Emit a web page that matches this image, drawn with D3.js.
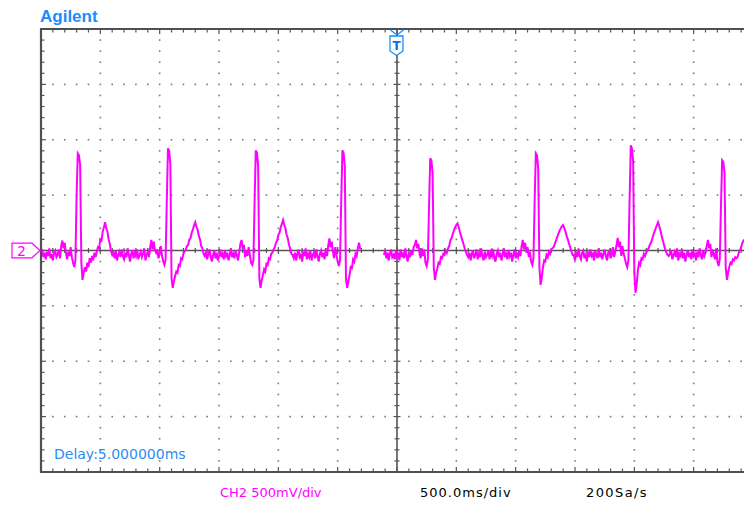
<!DOCTYPE html>
<html>
<head>
<meta charset="utf-8">
<script src="https://cdn.jsdelivr.net/npm/d3@7"></script>
<style>
body { margin:0; background:#fff; }
svg { display:block; }
</style>
</head>
<body>
<svg id="scope" width="744" height="505"></svg>
<script>
/*	Screen settings -------------------------------------------------------------*/
var timeDomain = [-3, 3];        // s   (12 div x 500 ms)
var voltDomain = [-2000, 2000];  // mV  (8 div x 500 mV)
var timeMajor = 0.5, timeMinor = 0.1;
var voltMajor = 500, voltMinor = 100;
var sampleStep = 0.01;           // s between plotted samples
var leftStart = -3.00;           // first record start (s)
var rightStart = -0.11;          // second record start (s)

/*	CH2 samples in mV ------------------------------------------------------------*/
var leftTrace = [
	-30, 10, -60, -20, -80, -10, -50, 20, -70, -30, -90, -20, 0, -60, -40, 10, -70,
	40, 90, 20, 70,
	-20, -80, -10, -50, 30, -60,
	-110, -150, -90,
	500, 877, 860, 770, -110, -265, -200,
	-150, -190, -110, -150, -70, -110, -50, -90, -20, -60,
	-10, 30, 20, 100, 90, 170, 210, 256, 200, 170, 100, 60, -10, -40,
	-20, -70, 0, -90, -40, -10, -60, 10, -50, -80, -20, -60, 20, -40, -100, -30, 0, -70, -20, -50, 10, -80, -40, -10, -60, -30, 20, -90, -40, -10, -60,
	30, 95, 10, 80, 0,
	-20, 10, -70, -30, 40, -50,
	-100, -130, -80,
	450, 922, 900, 780, -250, -337, -280,
	-230, -190, -200, -130, -140, -70, -80,
	-30, -10, 10, 40, 50, 100, 110, 160, 190, 230, 256, 210, 190, 130, 100, 40, 20, -30, -50,
	-20, -80, -30, 10, -60, -100, -40, 0, -70, -20, -90, -50, 10, -60, -30, -80, 0, -50, -20, -90, -40, 20, -60, -30, -70, 0, -40, -90, -20,
	60, 95, 20, 50,
	-60, 0, -50, 30, -40,
	-110, -130, -90,
	450, 904, 880, 760, -250, -337, -270,
	-220, -170, -190, -120, -130, -70, -80, -30,
	-20, 10, 30, 70, 90, 140, 160, 210, 240, 275, 230, 200, 140, 110, 50, 20, -30, -40,
	-70, -20, -90, -30, 10, -60, -40, -100, -10, -50, 20, -80, -30, -60, 0, -90, -40, -20, -70, 10, -50, -100, -30, 0, -60, -20, -80, 20, -50,
	40, 110, 30, 80,
	-10, -70, 30, -40,
	-100, -140, -90,
	450, 904, 880, 760, -250, -337, -280,
	-220, -150, -160, -80, -100, -30, -50, 20, 70, 10
];
var rightTrace = [
	-40, 0, -70, -20, -90, -30, 10, -60, -40, -80, 0, -50, -20, -90, 10, -60, -30, -70, 20, -50, -100, -20, -60, 0, -40, 30,
	50, 95, 20, 60,
	-30, -70, 20, -50, 10,
	-110, -140, -80,
	400, 833, 810, 700, -150, -265, -200,
	-160, -110, -120, -60, -70, -30, -40, 0,
	-20, 20, 40, 95, 110, 150, 180, 210, 230, 245, 210, 170, 130, 95, 60, 20, -10, -40,
	-60, -20, -90, -30, 0, -70, -40, 10, -80, -30, -60, 20, -50, -90, -10, -60, -40, 0, -80, -20, -50, 10, -70, -100, -30, 0, -60, -20, -90, -40, 20, -60, -30, -80, 0, -50, -20, -100, -40, 10, -70, -30, -60, 0, -50,
	40, 95, 10, 70,
	-20, 30, -60, -10,
	-100, -130, -70,
	450, 877, 860, 740, -150, -310, -250,
	-150, -90, -100, -40, -60, -10, -30, 10,
	20, 30, 60, 90, 120, 150, 180, 200, 220, 230, 200, 170, 130, 100, 60, 30, -10, -40,
	-40, -90, -10, -60, 20, -50, -80, -20, 0, -70, -40, -100, -10, -60, 10, -50, -30, -90, 0, -40, -70, 20, -60, -20, -80, -30, 10, -50, -90, -20, 0, -70, -40, 30, -60, -10,
	50, 113, 30, 80,
	-50, 40, -30, -70,
	-120, -150, -90,
	450, 950, 920, 800, -200, -382, -300,
	-180, -110, -130, -70, -80, -30, -50,
	-20, 0, 20, 50, 70, 100, 140, 170, 200, 230, 256, 220, 180, 130, 90, 50, 10, -20, -40, -50,
	-30, 0, -80, -40, -10, -60, 20, -90, -30, -50, 10, -70, -20, -100, -40, 0, -60, -20, -80, 10, -50, -30, -90, -10, -60, 20, -40, -80, 0, -50, -20,
	40, 95, 20, 60,
	-60, 10, -40, -80, 20,
	-100, -140, -80,
	400, 815, 800, 700, -150, -265, -200,
	-150, -110, -120, -80, -90, -60, -70, -58, -20, 0, 30, 67, 90, 100
];

/*	Screen texts ----------------------------------------------------------------*/
var brandText = "Agilent";
var delayText = "Delay:5.000000ms";
var channelText = "CH2 500mV/div";
var timebaseText = "500.0ms/div";
var rateText = "200Sa/s";
var channelNo = "2";

var svg = d3.select("#scope");
var W = 744;

var x = d3.scaleLinear().domain(timeDomain).range([41, 753]);
var y = d3.scaleLinear().domain(voltDomain).range([472, 29]);

var gridColor = "#555555";
var dotColor = "#7a7a7a";
var magenta = "#ff00ff";
var blue = "#1a8cff";

/*	Tick positions --------------------------------------------------------------*/
var tMinor = d3.range(-30, 31).map(function(i){ return i * timeMinor; });
var vMinor = d3.range(-20, 21).map(function(i){ return i * voltMinor; });
var isMajorT = function(t){ return Math.abs(t / timeMajor - Math.round(t / timeMajor)) < 1e-6; };
var isMajorV = function(v){ return v % voltMajor === 0; };

svg.append("clipPath").attr("id","plotClip")
	.append("rect").attr("x", 41).attr("y", 29).attr("width", W - 41).attr("height", 443);

var plot = svg.append("g").attr("clip-path","url(#plotClip)");

/*	Dotted grid -----------------------------------------------------------------*/
var dots = [];
tMinor.filter(isMajorT).forEach(function(t){
	if (Math.abs(t) < 1e-6 || t <= timeDomain[0] || t >= timeDomain[1]) return;
	vMinor.forEach(function(v){
		if (v <= voltDomain[0] || v >= voltDomain[1]) return;
		dots.push([t, v]);
	});
});
vMinor.filter(isMajorV).forEach(function(v){
	if (v === 0 || v <= voltDomain[0] || v >= voltDomain[1]) return;
	tMinor.forEach(function(t){
		if (t <= timeDomain[0] || t >= timeDomain[1] || isMajorT(t)) return;
		dots.push([t, v]);
	});
});
plot.selectAll(".dot").data(dots).enter()
	.append("rect")
	.attr("class","dot")
	.attr("x", function(d){ return x(d[0]) - 0.8; })
	.attr("y", function(d){ return y(d[1]) - 0.8; })
	.attr("width", 1.6)
	.attr("height", 1.6)
	.style("fill", dotColor);

/*	Centre axes with ticks ------------------------------------------------------*/
plot.append("line")
	.attr("x1", x(timeDomain[0])).attr("x2", x(timeDomain[1]))
	.attr("y1", y(0)).attr("y2", y(0))
	.style("stroke", gridColor).style("stroke-width", 1.6);
plot.append("line")
	.attr("x1", x(0)).attr("x2", x(0))
	.attr("y1", y(voltDomain[1])).attr("y2", y(voltDomain[0]))
	.style("stroke", gridColor).style("stroke-width", 1.6);

plot.selectAll(".hTick").data(tMinor).enter()
	.append("line")
	.attr("class","hTick")
	.attr("x1", function(d){ return x(d); })
	.attr("x2", function(d){ return x(d); })
	.attr("y1", function(d){ return y(0) - (isMajorT(d) ? 3.5 : 2.5); })
	.attr("y2", function(d){ return y(0) + (isMajorT(d) ? 3.5 : 2.5); })
	.style("stroke", gridColor).style("stroke-width", 1.2);
plot.selectAll(".vTick").data(vMinor).enter()
	.append("line")
	.attr("class","vTick")
	.attr("x1", function(d){ return x(0) - (isMajorV(d) ? 3.5 : 2.5); })
	.attr("x2", function(d){ return x(0) + (isMajorV(d) ? 3.5 : 2.5); })
	.attr("y1", function(d){ return y(d); })
	.attr("y2", function(d){ return y(d); })
	.style("stroke", gridColor).style("stroke-width", 1.2);

/*	Frame with ticks ------------------------------------------------------------*/
plot.selectAll(".topTick").data(tMinor).enter()
	.append("line")
	.attr("x1", function(d){ return x(d); })
	.attr("x2", function(d){ return x(d); })
	.attr("y1", y(voltDomain[1]))
	.attr("y2", function(d){ return y(voltDomain[1]) + (isMajorT(d) ? 5 : 3.5); })
	.style("stroke", gridColor).style("stroke-width", 1.2);
plot.selectAll(".botTick").data(tMinor).enter()
	.append("line")
	.attr("x1", function(d){ return x(d); })
	.attr("x2", function(d){ return x(d); })
	.attr("y1", y(voltDomain[0]))
	.attr("y2", function(d){ return y(voltDomain[0]) - (isMajorT(d) ? 5 : 3.5); })
	.style("stroke", gridColor).style("stroke-width", 1.2);
plot.selectAll(".leftTick").data(vMinor).enter()
	.append("line")
	.attr("x1", x(timeDomain[0]))
	.attr("x2", function(d){ return x(timeDomain[0]) + (isMajorV(d) ? 5 : 3.5); })
	.attr("y1", function(d){ return y(d); })
	.attr("y2", function(d){ return y(d); })
	.style("stroke", gridColor).style("stroke-width", 1.2);

/*	CH2 trace, two records ------------------------------------------------------*/
var traceLine = function(start){
	return d3.line()
		.x(function(d, i){ return x(start + i * sampleStep); })
		.y(function(d){ return y(d); });
};
plot.append("path")
	.datum(leftTrace)
	.attr("d", traceLine(leftStart))
	.style("fill","none").style("stroke", magenta).style("stroke-width", 2);
plot.append("path")
	.datum(rightTrace)
	.attr("d", traceLine(rightStart))
	.style("fill","none").style("stroke", magenta).style("stroke-width", 2);

/*	Outer frame lines -----------------------------------------------------------*/
svg.append("path")
	.attr("d", "M" + W + "," + y(voltDomain[1]) + "H" + x(timeDomain[0]) + "V" + y(voltDomain[0]) + "H" + W)
	.style("fill","none").style("stroke", "#505050").style("stroke-width", 2.2);

/*	Trigger marker --------------------------------------------------------------*/
var tx = x(0);
svg.append("path")
	.attr("d", "M" + (tx - 6.5) + ",30L" + tx + ",35L" + (tx + 6.5) + ",30")
	.style("fill","none").style("stroke", blue).style("stroke-width", 1.3);
svg.append("path")
	.attr("d", "M" + (tx - 7) + ",36H" + (tx + 6) + "V51L" + (tx - 0.5) + ",55.5L" + (tx - 7) + ",51Z")
	.style("fill","#ffffff").style("stroke", blue).style("stroke-width", 1.3);
svg.append("text")
	.attr("x", tx - 0.5).attr("y", 50)
	.attr("text-anchor","middle")
	.attr("font-family","DejaVu Sans, sans-serif")
	.attr("font-size","12px")
	.attr("font-weight","bold")
	.style("fill", "#1a6fd6")
	.text("T");

/*	Channel marker --------------------------------------------------------------*/
var cy = y(0);
svg.append("path")
	.attr("d", "M12," + (cy - 7.3) + "H32L40," + cy + "L32," + (cy + 7.3) + "H12Z")
	.style("fill","#ffffff").style("stroke", magenta).style("stroke-width", 1.2);
svg.append("text")
	.attr("x", 21.5).attr("y", cy + 5.5)
	.attr("text-anchor","middle")
	.attr("font-family","DejaVu Sans, sans-serif")
	.attr("font-size","14px")
	.style("fill", magenta)
	.text(channelNo);

/*	Labels ----------------------------------------------------------------------*/
svg.append("text")
	.attr("x", 40).attr("y", 22)
	.attr("font-family","Liberation Sans, Arial, sans-serif")
	.attr("font-size","17px")
	.attr("font-weight","bold")
	.style("fill", blue)
	.text(brandText);
svg.append("text")
	.attr("x", 54).attr("y", 459)
	.attr("font-family","DejaVu Sans, sans-serif")
	.attr("font-size","14px")
	.style("fill", "#2a8cf5")
	.text(delayText);
svg.append("text")
	.attr("x", 220).attr("y", 497)
	.attr("font-family","DejaVu Sans, sans-serif")
	.attr("font-size","13px")
	.style("fill", magenta)
	.text(channelText);
svg.append("text")
	.attr("x", 420).attr("y", 497)
	.attr("font-family","DejaVu Sans, sans-serif")
	.attr("font-size","13px")
	.attr("letter-spacing","1px")
	.style("fill", "#000000")
	.text(timebaseText);
svg.append("text")
	.attr("x", 586).attr("y", 497)
	.attr("font-family","DejaVu Sans, sans-serif")
	.attr("font-size","13px")
	.attr("letter-spacing","1.4px")
	.style("fill", "#000000")
	.text(rateText);
</script>
</body>
</html>
